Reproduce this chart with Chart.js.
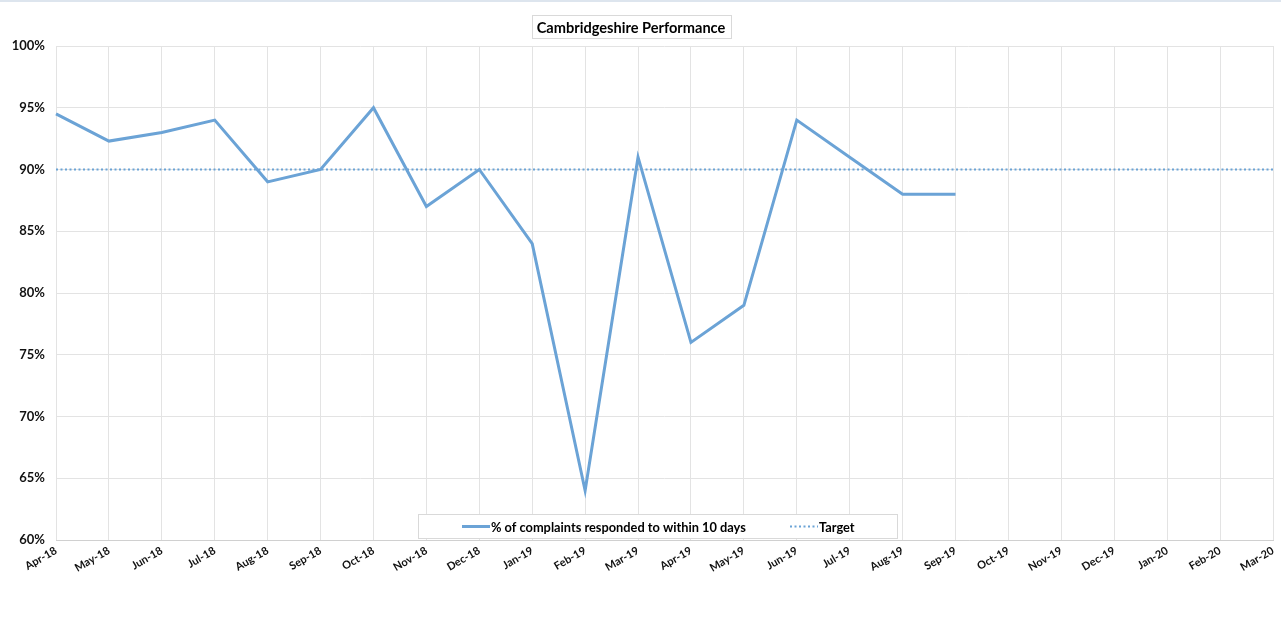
<!DOCTYPE html>
<html>
<head>
<meta charset="utf-8">
<title>Cambridgeshire Performance</title>
<script src="https://cdn.jsdelivr.net/npm/chart.js@4/dist/chart.umd.min.js"></script>
<style>
  html, body { margin: 0; padding: 0; background: #fff; }
  #wrap { width: 1281px; height: 620px; position: relative; }
</style>
</head>
<body>
<div id="wrap"><canvas id="perf"></canvas></div>
<script>
"use strict";

// Cambridgeshire complaints performance, monthly
const months = [
  'Apr-18', 'May-18', 'Jun-18', 'Jul-18', 'Aug-18', 'Sep-18',
  'Oct-18', 'Nov-18', 'Dec-18', 'Jan-19', 'Feb-19', 'Mar-19',
  'Apr-19', 'May-19', 'Jun-19', 'Jul-19', 'Aug-19', 'Sep-19',
  'Oct-19', 'Nov-19', 'Dec-19', 'Jan-20', 'Feb-20', 'Mar-20'
];
const responded = [
  94.5, 92.3, 93, 94, 89, 90,
  95, 87, 90, 84, 64, 91,
  76, 79, 94, 91, 88, 88,
  null, null, null, null, null, null
];
const target = [
  90, 90, 90, 90, 90, 90, 90, 90, 90, 90, 90, 90,
  90, 90, 90, 90, 90, 90, 90, 90, 90, 90, 90, 90
];
const yTicks = [60, 65, 70, 75, 80, 85, 90, 95, 100];

const FONT = 'Lato, "Liberation Sans", sans-serif';
const BLUE = '#6ba3d6';
const GRID = '#e3e3e3';

// frame, title box and legend box drawn by hand (Excel look)
const decor = {
  id: 'decor',
  beforeDraw(chart) {
    const ctx = chart.ctx;
    ctx.save();
    ctx.fillStyle = '#dde5ee';
    ctx.fillRect(0, 0, chart.width, 2);
    ctx.restore();
  },
  afterDraw(chart) {
    const ctx = chart.ctx;
    ctx.save();

    // title
    const title = 'Cambridgeshire Performance';
    ctx.font = 'bold 14.6px ' + FONT;
    const tw = ctx.measureText(title).width;
    const tx = 631, ty = 27;
    ctx.fillStyle = '#fff';
    ctx.fillRect(tx - tw / 2 - 5, ty - 11.5, tw + 10, 23);
    ctx.strokeStyle = '#d9d9d9';
    ctx.lineWidth = 1;
    ctx.strokeRect(Math.round(tx - tw / 2 - 5) + 0.5, ty - 11.5, Math.round(tw + 10), 23);
    ctx.fillStyle = '#000';
    ctx.textAlign = 'center';
    ctx.textBaseline = 'middle';
    ctx.fillText(title, tx, ty + 1);

    // legend
    const ds = chart.data.datasets;
    const bx = 418.5, by = 514.5, bw = 479, bh = 24;
    ctx.fillStyle = '#fff';
    ctx.fillRect(bx, by, bw, bh);
    ctx.strokeStyle = '#d9d9d9';
    ctx.strokeRect(bx, by, bw, bh);
    ctx.font = 'bold 12.8px ' + FONT;
    ctx.textAlign = 'left';
    ctx.fillStyle = '#000';
    const cy = by + bh / 2;
    const items = [{ x: 462, ds: ds[0] }, { x: 790, ds: ds[1] }];
    items.forEach(it => {
      ctx.beginPath();
      ctx.strokeStyle = it.ds.borderColor;
      ctx.lineWidth = it.ds.borderWidth;
      ctx.setLineDash(it.ds.borderDash || []);
      ctx.moveTo(it.x, cy);
      ctx.lineTo(it.x + 28, cy);
      ctx.stroke();
      ctx.setLineDash([]);
      ctx.fillText(it.ds.label, it.x + 29, cy + 1);
    });
    ctx.restore();
  }
};

const options = {
  type: 'line',
  data: {
    labels: months,
    datasets: [{
      label: '% of complaints responded to within 10 days',
      data: responded,
      borderColor: BLUE,
      borderWidth: 3,
      pointRadius: 0,
      fill: false,
      tension: 0,
      spanGaps: false
    }, {
      label: 'Target',
      data: target,
      borderColor: BLUE,
      borderWidth: 2,
      borderDash: [2, 2.5],
      pointRadius: 0,
      fill: false,
      tension: 0
    }]
  },
  options: {
    responsive: false,
    animation: false,
    layout: { padding: { top: 46, right: 8, left: 0, bottom: 0 } },
    plugins: {
      legend: { display: false },
      title: { display: false },
      tooltip: { enabled: false }
    },
    scales: {
      x: {
        offset: false,
        grid: { color: GRID, lineWidth: 1, drawTicks: false },
        border: { color: '#d0d0d0' },
        ticks: {
          color: '#111',
          font: { family: FONT, weight: 'bold', size: 11 },
          minRotation: 30,
          maxRotation: 30,
          autoSkip: false,
          padding: 4
        },
        afterFit(scale) {
          scale.height = 80;
          scale.paddingRight = 0;
        }
      },
      y: {
        min: 60,
        max: 100,
        afterBuildTicks(scale) {
          scale.ticks = yTicks.map(v => ({ value: v }));
        },
        grid: { color: GRID, lineWidth: 1, drawTicks: false },
        border: { display: false },
        ticks: {
          color: '#111',
          font: { family: FONT, weight: 'bold', size: 13 },
          padding: 11,
          callback: v => v + '%'
        },
        afterFit(scale) { scale.width = 56; }
      }
    }
  },
  plugins: [decor]
};

const canvas = document.getElementById('perf');
canvas.width = 1281;
canvas.height = 620;
new Chart(canvas.getContext('2d'), options);
</script>
</body>
</html>
